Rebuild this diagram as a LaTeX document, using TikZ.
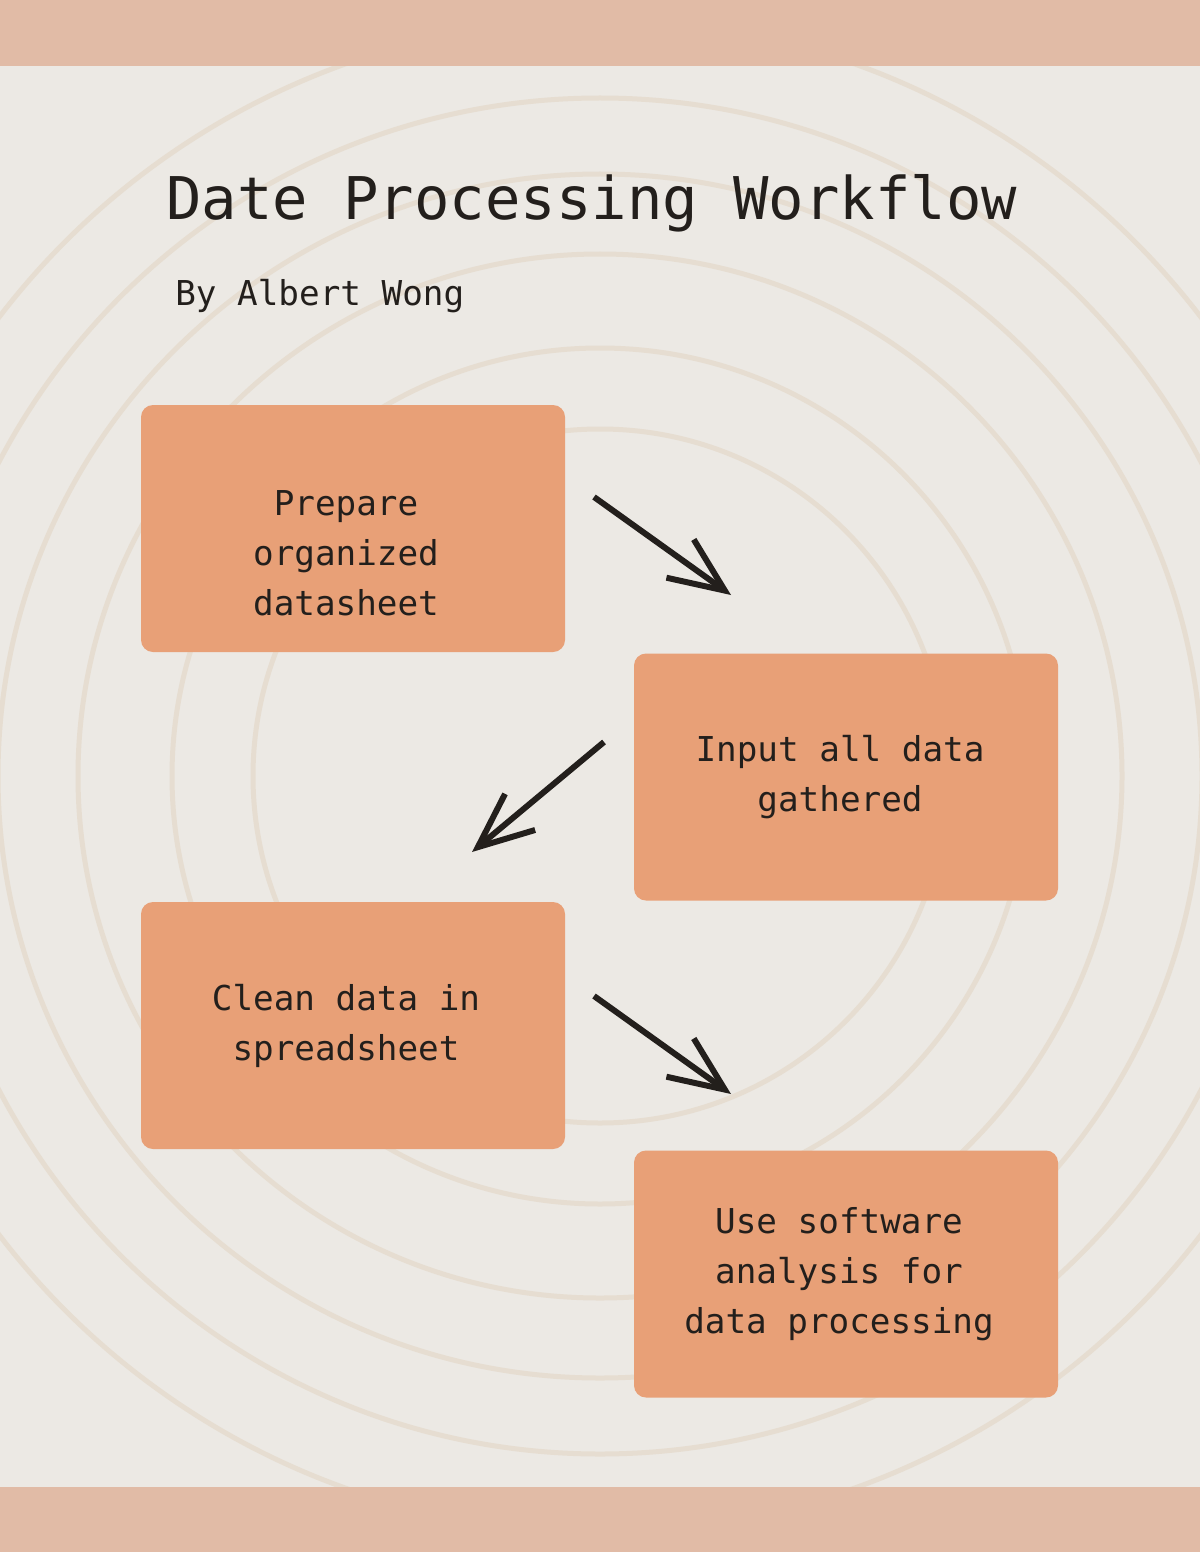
\documentclass[tikz,border=0pt]{standalone}
\usepackage{fontspec}
\newfontfamily\monofont{DejaVu Sans Mono}
\usetikzlibrary{arrows.meta}

\definecolor{pagebg}{HTML}{ECE9E4}
\definecolor{bandcol}{HTML}{E1BBA6}
\definecolor{boxcol}{HTML}{E8A077}
\definecolor{ringcol}{HTML}{E6DDD1}
\definecolor{inkcol}{HTML}{231F1C}

\tikzset{
  stepbox/.style={fill=boxcol, rounded corners=0.24cm, minimum width=8.48cm,
                  minimum height=4.94cm, inner sep=0pt},
  steptext/.style={font=\monofont\fontsize{19.5}{28.4}\selectfont, text=inkcol,
                   align=center, inner sep=0pt},
  flow/.style={-{Straight Barb[length=1.1cm,width=0.94cm]}, line width=3.4pt, draw=inkcol}
}

\begin{document}
\begin{tikzpicture}
      % page
      \fill[pagebg] (0,0) rectangle (24,-31.04);
      \useasboundingbox (0,0) rectangle (24,-31.04);
      % concentric rings
      \begin{scope}
        \clip (0,0) rectangle (24,-31.04);
        \foreach \r in {6.94,8.56,10.44,12.04,13.56,15.12} {
          \draw[ringcol, line width=0.1cm] (12,-15.52) circle (\r);
        }
      \end{scope}
      % top and bottom bands
      \fill[bandcol] (0,0) rectangle (24,-1.32);
      \fill[bandcol] (0,-29.74) rectangle (24,-31.04);
      % title
      \node[anchor=base west, inner sep=0pt, text=inkcol,
            font=\monofont\fontsize{33.5}{40}\selectfont] (title) at (3.32,-4.40)
            {Date Processing Workflow};
      \node[anchor=base west, inner sep=0pt, text=inkcol,
            font=\monofont\fontsize{19.5}{24}\selectfont] (author) at (3.50,-6.10)
            {By Albert Wong};
      % step boxes
      \node[stepbox] (prep)  at (7.06,-10.57) {};
      \node[stepbox] (input) at (16.92,-15.54) {};
      \node[stepbox] (clean) at (7.06,-20.51) {};
      \node[stepbox] (soft)  at (16.92,-25.48) {};
      % step labels
      \node[steptext] (prepT)  at ([xshift=-0.14cm, yshift=-0.49cm]prep.center)
            {Prepare\\organized\\datasheet};
      \node[steptext] (inputT) at ([xshift=-0.12cm]input.center)
            {Input all data\\gathered};
      \node[steptext] (cleanT) at ([xshift=-0.14cm]clean.center)
            {Clean data in\\spreadsheet};
      \node[steptext] (softT)  at ([xshift=-0.14cm]soft.center)
            {Use software\\analysis for\\data processing};
      % arrow ends
      \coordinate (a1s) at (11.88,-9.94);
      \coordinate (a1e) at (14.62,-11.90);
      \coordinate (a2s) at (12.08,-14.84);
      \coordinate (a2e) at (9.44,-17.04);
      \coordinate (a3s) at (11.88,-19.92);
      \coordinate (a3e) at (14.62,-21.88);
      % arrows
      \draw[flow] (a1s) -- (a1e);
      \draw[flow] (a2s) -- (a2e);
      \draw[flow] (a3s) -- (a3e);
\end{tikzpicture}
\end{document}
